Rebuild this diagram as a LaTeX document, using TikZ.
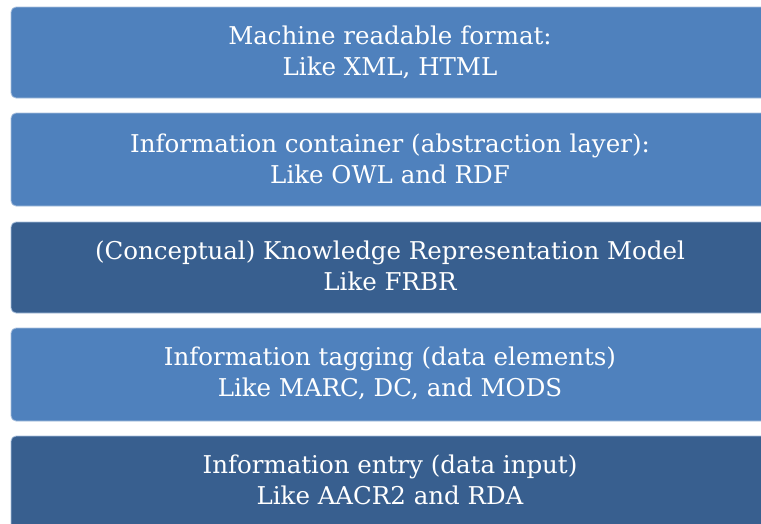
\documentclass[tikz,border=0pt]{standalone}
\usepackage{fontspec}
\setmainfont{DejaVu Serif}
\definecolor{lightb}{HTML}{4F81BD}
\definecolor{darkb}{HTML}{385F8F}
\definecolor{edgeb}{HTML}{A9C0DD}
\begin{document}
\begin{tikzpicture}[x=1pt,y=-1pt,
  layer/.style={rounded corners=5pt, draw=edgeb, line width=0.8pt},
  lbl/.style={text=white, align=center, font=\fontsize{24.5}{31}\selectfont}]
\useasboundingbox (0,0) rectangle (761,523);
\fill[white] (0,0) rectangle (761,523);
\begin{scope}
\clip (0,0) rectangle (761,523);
\draw[layer, fill=lightb] (11,7) rectangle (772,98);
\draw[layer, fill=lightb] (11,113) rectangle (772,206);
\draw[layer, fill=darkb] (11,222) rectangle (772,313);
\draw[layer, fill=lightb] (11,328) rectangle (772,421);
\draw[layer, fill=darkb] (11,436) rectangle (772,540);
\end{scope}
\node[lbl] (n1) at (390,52) {Machine readable format:\\Like XML, HTML};
\node[lbl] (n2) at (390,159) {Information container (abstraction layer):\\Like OWL and RDF};
\node[lbl] (n3) at (390,266) {(Conceptual) Knowledge Representation Model\\Like FRBR};
\node[lbl] (n4) at (390,373) {Information tagging (data elements)\\Like MARC, DC, and MODS};
\node[lbl] (n5) at (390,480) {Information entry (data input)\\Like AACR2 and RDA};
\end{tikzpicture}
\end{document}
